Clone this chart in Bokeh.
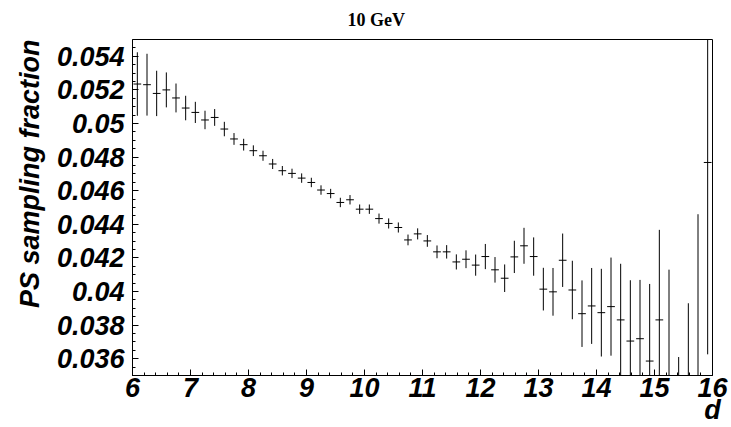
import numpy as np
from bokeh.plotting import figure
from bokeh.models import (FixedTicker, CustomJSTickFormatter, Title, ColumnDataSource, Range1d)
from bokeh.embed import file_html
from bokeh.resources import INLINE

# ---- data ----
bin_lo = 6.0
bin_hi = 16.0
n_bins = 60
values = [0.05235, 0.05231, 0.05179, 0.05200, 0.05152, 0.05092, 0.05066, 0.05021, 0.05036, 0.04967,
          0.04908, 0.04874, 0.04838, 0.04808, 0.04759, 0.04719, 0.04703, 0.04675, 0.04649, 0.04604,
          0.04583, 0.04530, 0.04546, 0.04490, 0.04490, 0.04434, 0.04405, 0.04381, 0.04307, 0.04343,
          0.04301, 0.04236, 0.04236, 0.04176, 0.04192, 0.04157, 0.04208, 0.04129, 0.04079, 0.04206,
          0.04272, 0.04208, 0.04014, 0.03998, 0.04186, 0.04009, 0.03868, 0.03914, 0.03874, 0.03910,
          0.03831, 0.03705, 0.03719, 0.03586, 0.03831, 0.03400, 0.03000, 0.03200, 0.03400, 0.04768]
errors = [0.00189, 0.00184, 0.00135, 0.00104, 0.00086, 0.00073, 0.00063, 0.00055, 0.00050, 0.00043,
          0.00035, 0.00035, 0.00032, 0.00030, 0.00030, 0.00028, 0.00028, 0.00028, 0.00028, 0.00028,
          0.00028, 0.00028, 0.00028, 0.00028, 0.00028, 0.00030, 0.00030, 0.00030, 0.00032, 0.00033,
          0.00035, 0.00038, 0.00040, 0.00045, 0.00053, 0.00063, 0.00075, 0.00076, 0.00082, 0.00096,
          0.00107, 0.00114, 0.00127, 0.00142, 0.00159, 0.00174, 0.00198, 0.00226, 0.00261, 0.00292,
          0.00334, 0.00362, 0.00350, 0.00459, 0.00536, 0.00730, 0.00610, 0.00730, 0.01060, 0.01142]
x_ticks = [6, 7, 8, 9, 10, 11, 12, 13, 14, 15, 16]
y_ticks = [0.036, 0.038, 0.040, 0.042, 0.044, 0.046, 0.048, 0.050, 0.052, 0.054]
y_tick_labels = ["0.036", "0.038", "0.04", "0.042", "0.044", "0.046", "0.048", "0.05", "0.052", "0.054"]
title_text = "10 GeV"
x_title = "d"
y_title = "PS sampling fraction"

# ---- derived ----
bw = (bin_hi - bin_lo) / n_bins
x = bin_lo + (np.arange(n_bins) + 0.5) * bw
y = np.array(values)
e = np.array(errors)
hw = bw * 0.4

src = ColumnDataSource(dict(x=x, y=y, lo=y - e, hi=y + e, xl=x - hw, xr=x + hw))

p = figure(width=731, height=427, output_backend="svg", toolbar_location=None,
           x_range=Range1d(6, 16), y_range=Range1d(0.035, 0.055),
           min_border_left=132, min_border_right=19, min_border_top=39, min_border_bottom=52)
p.background_fill_color = "white"
p.border_fill_color = "white"
p.outline_line_color = "black"
p.outline_line_width = 1
p.xgrid.visible = False
p.ygrid.visible = False

p.segment(x0="x", y0="lo", x1="x", y1="hi", source=src, line_color="black", line_width=1)
p.segment(x0="xl", y0="y", x1="xr", y1="y", source=src, line_color="black", line_width=1)

font = "Liberation Sans"
fsize = "27px"
xa = p.xaxis[0]
xa.ticker = FixedTicker(ticks=x_ticks, minor_ticks=list(np.arange(6, 16.01, 0.2)))
xa.major_tick_in = 6
xa.major_tick_out = 0
xa.minor_tick_in = 3
xa.minor_tick_out = 0
xa.major_label_standoff = 2
xa.major_label_text_font = font
xa.major_label_text_font_style = "bold italic"
xa.major_label_text_font_size = fsize
xa.major_label_text_color = "black"
xa.axis_line_color = "black"
xa.axis_label = x_title
xa.axis_label_text_font = font
xa.axis_label_text_font_style = "bold italic"
xa.axis_label_text_font_size = fsize
xa.axis_label_text_color = "black"
xa.axis_label_standoff = -5
xa.axis_label_align = "end"

ya = p.yaxis[0]
ya.ticker = FixedTicker(ticks=y_ticks, minor_ticks=list(np.arange(0.035, 0.05501, 0.0005)))
ya.formatter = CustomJSTickFormatter(args=dict(tvals=y_ticks, tlabels=y_tick_labels), code="""
let best = -1;
for (let k = 0; k < tvals.length; k++) { if (Math.abs(tvals[k] - tick) < 1e-9) best = k; }
return best >= 0 ? tlabels[best] : "";
""")
ya.major_tick_in = 6
ya.major_tick_out = 0
ya.minor_tick_in = 3
ya.minor_tick_out = 0
ya.major_label_standoff = 8
ya.major_label_text_font = font
ya.major_label_text_font_style = "bold italic"
ya.major_label_text_font_size = fsize
ya.major_label_text_color = "black"
ya.axis_line_color = "black"

p.add_layout(Title(text=y_title, align="right", text_font=font, text_font_style="bold italic",
                   text_font_size=fsize, text_color="black", standoff=17), "left")
p.add_layout(Title(text=title_text, align="left", offset=215, text_font="Liberation Serif",
                   text_font_style="bold", text_font_size="18px", text_color="black",
                   standoff=17, vertical_align="middle"), "above")

open("out.html", "w").write(file_html(p, INLINE))
